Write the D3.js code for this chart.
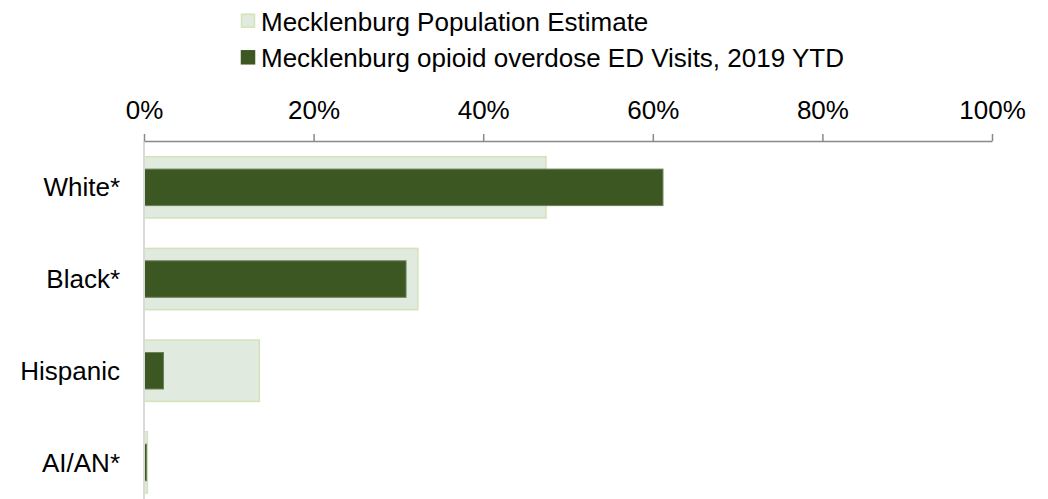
<!DOCTYPE html>
<html><head><meta charset="utf-8">
<script src="https://cdn.jsdelivr.net/npm/d3@7"></script>
<style>body{margin:0;background:#fff}svg{display:block;font-family:"Liberation Sans",Arial,sans-serif}</style>
</head><body>
<svg id="chart" width="1048" height="499"></svg>
<script>
const categories = ["White*", "Black*", "Hispanic", "AI/AN*"];
const populationEstimate = [0.474, 0.323, 0.136, 0.004];
const edVisits = [0.612, 0.309, 0.023, 0.003];
const seriesNames = ["Mecklenburg Population Estimate", "Mecklenburg opioid overdose ED Visits, 2019 YTD"];
const tickValues = [0, 0.2, 0.4, 0.6, 0.8, 1.0];

const svg = d3.select("#chart");
const x = d3.scaleLinear().domain([0, 1]).range([144, 992]);
const y = d3.scaleBand().domain(categories).range([141.5, 508.3]).padding(0);

const popH = 61.3, edH = 36.5;
const popFill = "#e0eadf", popStroke = "#d5e2b8";
const edFill = "#3d5723", edStroke = "#6c8158";

// population bars
svg.append("g").selectAll("rect").data(categories).join("rect")
  .attr("x", x(0))
  .attr("y", d => y(d) + y.bandwidth()/2 - popH/2)
  .attr("width", (d,i) => x(populationEstimate[i]) - x(0))
  .attr("height", popH)
  .attr("fill", popFill).attr("stroke", popStroke).attr("stroke-width", 1.5);

// ED bars
svg.append("g").selectAll("rect").data(categories).join("rect")
  .attr("x", x(0))
  .attr("y", d => y(d) + y.bandwidth()/2 - edH/2)
  .attr("width", (d,i) => x(edVisits[i]) - x(0))
  .attr("height", edH)
  .attr("fill", edFill).attr("stroke", edStroke).attr("stroke-width", 1);

// vertical category axis line
svg.append("line").attr("x1", x(0)).attr("x2", x(0)).attr("y1", 141).attr("y2", 499)
  .attr("stroke", "#d9d9d9").attr("stroke-width", 2);

// top axis
const xAxis = d3.axisTop(x).tickValues(tickValues).tickFormat(d3.format(".0%")).tickSize(7).tickSizeOuter(0).tickPadding(15);
const gx = svg.append("g").attr("transform", "translate(0,141)").call(xAxis);
gx.select(".domain").attr("stroke", "#898989").attr("stroke-width", 1.5);
gx.selectAll(".tick line").attr("stroke", "#898989").attr("stroke-width", 1.5);
gx.selectAll(".tick text").attr("font-size", 26).attr("fill", "#000")
  .attr("font-family", "'Liberation Sans', Arial, sans-serif");

// category labels
svg.append("g").selectAll("text").data(categories).join("text")
  .attr("x", 120)
  .attr("y", d => y(d) + y.bandwidth()/2)
  .attr("dy", "0.35em")
  .attr("text-anchor", "end")
  .attr("font-size", 26).attr("fill", "#000")
  .text(d => d);

// legend
const legend = svg.append("g");
const legendColors = [[popFill, popStroke], [edFill, edFill]];
const legendBaselines = [30.7, 67.3];
seriesNames.forEach((name, i) => {
  legend.append("rect").attr("x", 241.5).attr("y", legendBaselines[i] - 16.5).attr("width", 13).attr("height", 13)
    .attr("fill", legendColors[i][0]).attr("stroke", legendColors[i][1]).attr("stroke-width", 1.5);
  legend.append("text").attr("x", 261).attr("y", legendBaselines[i])
    .attr("font-size", 26).attr("fill", "#000").text(name);
});
</script>
</body></html>
